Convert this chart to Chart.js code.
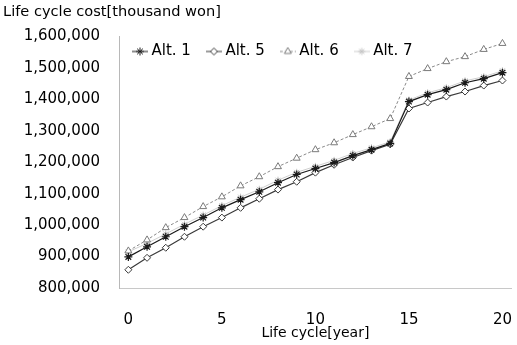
<!DOCTYPE html>
<html>
<head>
<meta charset="utf-8">
<script src="https://cdn.jsdelivr.net/npm/chart.js@4/dist/chart.umd.min.js"></script>
<style>
  html, body { margin: 0; padding: 0; background: #fff; }
  #wrap { width: 517px; height: 345px; }
</style>
</head>
<body>
<div id="wrap"><canvas id="c" width="517" height="345"></canvas></div>
<script>
// ---- data ----
const years = [0,1,2,3,4,5,6,7,8,9,10,11,12,13,14,15,16,17,18,19,20];
const alt1 = [899000, 931000, 963000, 995000, 1024000, 1055000, 1081000, 1106000, 1135000, 1161000, 1180000, 1199000, 1221000, 1240000, 1260000, 1393000, 1415000, 1431000, 1453000, 1466000, 1485000];
const alt5 = [858000, 896000, 928000, 963000, 995000, 1024000, 1055000, 1084000, 1113000, 1138000, 1167000, 1192000, 1215000, 1237000, 1257000, 1371000, 1390000, 1409000, 1425000, 1444000, 1460000];
const alt6 = [918000, 953000, 992000, 1024000, 1059000, 1090000, 1125000, 1154000, 1186000, 1213000, 1240000, 1262000, 1288000, 1313000, 1339000, 1473000, 1498000, 1520000, 1536000, 1559000, 1578000];
const alt7 = [915000, 942000, 972000, 1003000, 1032000, 1062000, 1089000, 1114000, 1143000, 1168000, 1187000, 1206000, 1228000, 1246000, 1265000, 1398000, 1421000, 1437000, 1459000, 1472000, 1491000];
const seriesNames = ['Alt. 1', 'Alt. 5', 'Alt. 6', 'Alt. 7'];
const xTickValues = [0, 5, 10, 15, 20];
const yTitle = 'Life cycle cost[thousand won]';
const xTitle = 'Life cycle[year]';

const FONT = 'DejaVu Sans';
const pts = arr => arr.map((v, i) => ({x: years[i], y: v}));

const datasets = [
  { label: seriesNames[0], data: pts(alt1), borderColor: '#1a1a1a', borderWidth: 1.2,
    pointStyle: 'star', pointRadius: 4, pointBorderColor: '#1a1a1a', pointBackgroundColor: '#1a1a1a', pointBorderWidth: 1.2 },
  { label: seriesNames[1], data: pts(alt5), borderColor: '#3a3a3a', borderWidth: 1.2,
    pointStyle: 'rectRot', pointRadius: 3.5, pointBorderColor: '#3a3a3a', pointBackgroundColor: '#ffffff', pointBorderWidth: 1 },
  { label: seriesNames[2], data: pts(alt6), borderColor: '#8a8a8a', borderWidth: 1, borderDash: [3, 2],
    pointStyle: 'triangle', pointRadius: 4, pointBorderColor: '#7a7a7a', pointBackgroundColor: '#ffffff', pointBorderWidth: 1 },
  { label: seriesNames[3], data: pts(alt7), borderColor: '#cfcfcf', borderWidth: 1,
    pointStyle: 'star', pointRadius: 3.5, pointBorderColor: '#c4c4c4', pointBackgroundColor: '#c4c4c4', pointBorderWidth: 1 }
];
datasets.forEach(d => { d.fill = false; d.tension = 0; });

function makeIcon(ds) {
  const c = document.createElement('canvas');
  c.width = 16; c.height = 10;
  const x = c.getContext('2d');
  x.strokeStyle = ds.borderColor; x.lineWidth = 1;
  if (ds.borderDash) x.setLineDash(ds.borderDash);
  x.beginPath(); x.moveTo(0, 5); x.lineTo(16, 5); x.stroke();
  x.setLineDash([]);
  x.fillStyle = ds.pointBackgroundColor; x.strokeStyle = ds.pointBorderColor; x.lineWidth = 1;
  Chart.helpers.drawPoint(x, {pointStyle: ds.pointStyle, radius: ds.pointRadius, rotation: 0, borderWidth: 1}, 8, 5);
  return c;
}
const icons = datasets.map(makeIcon);

const moveLegend = {
  id: 'moveLegend',
  afterLayout(chart) {
    const lg = chart.legend;
    if (!lg) return;
    lg.top = 25;
    lg.bottom = 75;
    lg.height = 50;
    lg.left = 117;
  }
};

new Chart(document.getElementById('c'), {
  type: 'line',
  data: { datasets },
  plugins: [moveLegend],
  options: {
    responsive: false,
    animation: false,
    devicePixelRatio: 1,
    layout: { padding: { left: 3, right: 0, top: 0, bottom: 0 } },
    plugins: {
      title: {
        display: true, text: yTitle, align: 'start', color: '#000',
        font: { family: FONT, size: 14.6, weight: 'normal' },
        padding: { top: 3, bottom: 15 }
      },
      legend: {
        display: true, position: 'top', align: 'start', maxHeight: 1,
        labels: {
          color: '#000', font: { family: FONT, size: 15 },
          usePointStyle: true, pointStyleWidth: 8, padding: 19,
          generateLabels(chart) {
            const items = Chart.defaults.plugins.legend.labels.generateLabels(chart);
            items.forEach(it => { it.pointStyle = icons[it.datasetIndex]; });
            return items;
          }
        }
      },
      tooltip: { enabled: false }
    },
    scales: {
      x: {
        type: 'linear', min: -0.5, max: 20.5,
        afterBuildTicks(scale) { scale.ticks = xTickValues.map(v => ({value: v})); },
        afterFit(scale) { scale.height = 57; scale.paddingLeft = 0; scale.paddingRight = 0; },
        grid: { display: false, drawTicks: false },
        border: { display: true, color: '#c8c8c8', dash: [2, 4] },
        ticks: { color: '#000', font: { family: FONT, size: 15 }, padding: 23, maxRotation: 0, autoSkip: false },
        title: { display: true, text: xTitle, color: '#000', font: { family: FONT, size: 14 }, padding: { top: 0, bottom: 3 } }
      },
      y: {
        min: 800000, max: 1600000,
        afterFit(scale) { scale.width = 116; scale.paddingTop = 0; scale.paddingBottom = 0; },
        grid: { display: false, drawTicks: false },
        border: { display: true, color: '#b8b8b8', dash: [2, 3] },
        ticks: { stepSize: 100000, color: '#000', font: { family: FONT, size: 15 }, padding: 19 }
      }
    }
  }
});
</script>
</body>
</html>
